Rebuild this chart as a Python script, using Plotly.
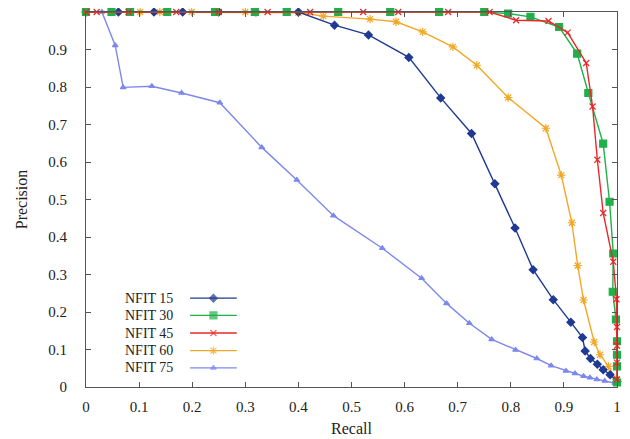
import plotly.graph_objects as go

# ---------------- data ----------------
names = ["NFIT 15", "NFIT 30", "NFIT 45", "NFIT 60", "NFIT 75"]

r15 = [0, 0.061, 0.128, 0.182, 0.25, 0.32, 0.40, 0.468, 0.532, 0.608, 0.668, 0.726, 0.770, 0.808,
       0.842, 0.880, 0.913, 0.935, 0.940, 0.950, 0.963, 0.974, 0.987, 1.0]
p15 = [1, 1, 1, 1, 1, 1, 1, 0.965, 0.939, 0.879, 0.771, 0.676, 0.542, 0.424,
       0.313, 0.233, 0.173, 0.132, 0.096, 0.076, 0.061, 0.046, 0.033, 0.015]

r30 = [0, 0.048, 0.083, 0.153, 0.243, 0.318, 0.378, 0.475, 0.573, 0.665, 0.750, 0.795, 0.837,
       0.891, 0.925, 0.946, 0.974, 0.986, 0.993, 0.992, 0.998, 1.0, 1.0, 1.0, 1.0]
p30 = [1, 1, 1, 1, 1, 1, 1, 1, 1, 1, 1, 0.996, 0.987,
       0.960, 0.889, 0.784, 0.649, 0.494, 0.356, 0.254, 0.180, 0.122, 0.086, 0.055, 0.012]

r45 = [0, 0.02, 0.080, 0.17, 0.25, 0.342, 0.422, 0.522, 0.588, 0.682, 0.76, 0.810, 0.871,
       0.907, 0.942, 0.954, 0.963, 0.974, 0.993, 0.999, 1.0, 1.0, 1.0, 1.0]
p45 = [1, 1, 1, 1, 1, 1, 1, 1, 1, 1, 1, 0.978, 0.976,
       0.945, 0.864, 0.748, 0.606, 0.464, 0.334, 0.234, 0.16, 0.11, 0.065, 0.02]

r60 = [0, 0.048, 0.102, 0.139, 0.199, 0.30, 0.40, 0.447, 0.535, 0.584, 0.634, 0.691, 0.736, 0.795,
       0.866, 0.895, 0.915, 0.926, 0.937, 0.957, 0.968, 0.984, 0.998]
p60 = [1, 1, 1, 1, 1, 1, 0.998, 0.989, 0.981, 0.974, 0.947, 0.907, 0.858, 0.772,
       0.690, 0.565, 0.438, 0.324, 0.232, 0.120, 0.086, 0.055, 0.02]

r75 = [0, 0.03, 0.055, 0.070, 0.124, 0.180, 0.252, 0.331, 0.397, 0.466, 0.558, 0.632, 0.679,
       0.722, 0.764, 0.809, 0.849, 0.876, 0.904, 0.921, 0.937, 0.949, 0.962, 0.977, 0.996]
p75 = [1, 1, 0.911, 0.799, 0.802, 0.784, 0.758, 0.639, 0.552, 0.457, 0.370, 0.290, 0.223,
       0.170, 0.127, 0.099, 0.076, 0.057, 0.043, 0.036, 0.029, 0.025, 0.020, 0.016, 0.010]

xticks = [0, 0.1, 0.2, 0.3, 0.4, 0.5, 0.6, 0.7, 0.8, 0.9, 1]
xticklabels = ["0", "0.1", "0.2", "0.3", "0.4", "0.5", "0.6", "0.7", "0.8", "0.9", "1"]
yticks = xticks
yticklabels = xticklabels

# ---------------- styles ----------------
colors = ["#1f3a93", "#1fb04a", "#e8282a", "#f0a826", "#7d88ec"]
symbols = ["diamond", "square", "x-thin-open", "asterisk-open", "triangle-up"]
msizes = [6, 7, 6, 7, 5]

series = [(r15, p15), (r30, p30), (r45, p45), (r60, p60), (r75, p75)]

FONT = "Liberation Serif"
TXT = "#222222"

fig = go.Figure()
for i in [4, 3, 0, 1, 2]:
    rx, py = series[i]
    fig.add_trace(go.Scatter(
        x=rx, y=py, mode="lines+markers", name=names[i],
        line=dict(color=colors[i], width=1.4),
        marker=dict(symbol=symbols[i], size=msizes[i], color=colors[i],
                    line=dict(color=colors[i], width=1.2)),
        cliponaxis=False, showlegend=False,
    ))

# custom legend (text left, sample right), placed in plot-area fractions
leg_text_x = 0.168
leg_x = [0.196, 0.240, 0.284]
leg_y = [0.237, 0.191, 0.144, 0.097, 0.051]
for i in range(5):
    fig.add_trace(go.Scatter(
        x=leg_x, y=[leg_y[i]] * 3, xaxis="x2", yaxis="y2",
        mode="lines+markers",
        line=dict(color=colors[i], width=1.4),
        marker=dict(symbol=symbols[i], size=[0, msizes[i], 0], color=colors[i],
                    line=dict(color=colors[i], width=1.2)),
        showlegend=False, hoverinfo="skip", cliponaxis=False,
    ))
    fig.add_annotation(x=leg_text_x, y=leg_y[i], xref="paper", yref="paper",
                       text=names[i], showarrow=False, xanchor="right", yanchor="middle",
                       font=dict(family=FONT, size=14, color=TXT))

axis_common = dict(
    showgrid=False, zeroline=False, showline=True, linecolor="#555", linewidth=1,
    mirror="ticks", ticks="inside", ticklen=5, tickcolor="#555",
    tickfont=dict(family=FONT, size=15, color=TXT), automargin=False,
)

fig.update_layout(
    width=622, height=431,
    margin=dict(l=78, r=13, t=4, b=52),
    paper_bgcolor="white", plot_bgcolor="white",
    xaxis=dict(range=[0, 1], tickvals=xticks, ticktext=xticklabels, ticklabelstandoff=6,
               title=dict(text="Recall", font=dict(family=FONT, size=16, color=TXT), standoff=8),
               **axis_common),
    yaxis=dict(range=[0, 1], tickvals=yticks, ticktext=yticklabels, ticklabelstandoff=15,
               title=dict(text="Precision", font=dict(family=FONT, size=16, color=TXT), standoff=16),
               **axis_common),
    xaxis2=dict(range=[0, 1], overlaying="x", visible=False),
    yaxis2=dict(range=[0, 1], overlaying="y", visible=False),
)

fig.write_html("out.html")
